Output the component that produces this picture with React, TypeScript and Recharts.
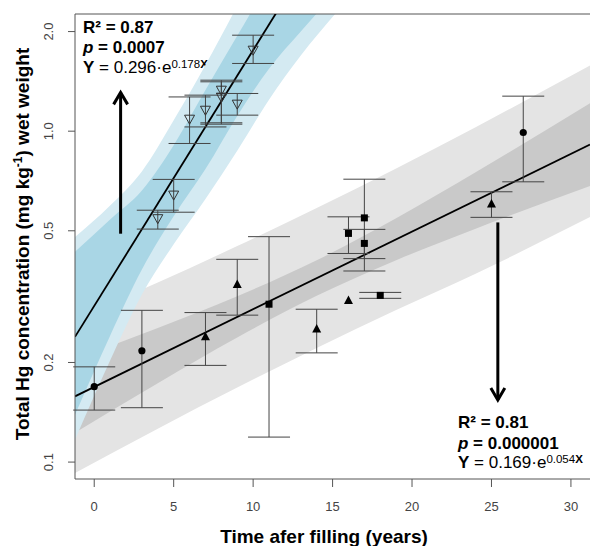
import { ComposedChart, Area, Line, Scatter, ErrorBar, XAxis, YAxis, ReferenceLine } from 'recharts';

// confidence / prediction bands (mg/kg, log axis)
const grayBandX = [-1.21, 4, 9, 14, 19, 24, 31.2];
const grayOuterLo = [0.0927, 0.1262, 0.168, 0.2212, 0.288, 0.3709, 0.55];
const grayOuterHi = [0.2707, 0.3487, 0.4496, 0.5856, 0.7719, 1.0285, 1.58];
const grayInnerLo = [0.1227, 0.1732, 0.2381, 0.318, 0.4074, 0.5075, 0.6834];
const grayInnerHi = [0.2046, 0.2541, 0.317, 0.4074, 0.5458, 0.7515, 1.214];

const blueBandX = [-1.21, 1, 3, 5, 7, 9, 11, 13, 15.2];
const blueOuterLo = [0.1168, 0.2027, 0.3211, 0.4553, 0.6237, 0.872, 1.245, 1.693, 2.272];
const blueOuterHi = [0.479, 0.596, 0.756, 1.079, 1.585, 2.391, 3.66, 5.68, 9.2];
const blueInnerLo = [0.139, 0.241, 0.382, 0.553, 0.768, 1.112, 1.545, 2.001, 2.63];
const blueInnerHi = [0.432, 0.541, 0.662, 0.907, 1.331, 1.941, 2.84, 4.24, 6.63];

// fitted lines
const blueLineX = [-1.21, 12];
const blueLineY = [0.239, 2.51];
const grayLineX = [-1.21, 31.2];
const grayLineY = [0.158, 0.911];

// open triangles (upper group)
const openX = [4, 5, 6, 7, 8, 8, 9, 10];
const openY = [0.544, 0.641, 1.087, 1.157, 1.33, 1.267, 1.207, 1.757];
const openLo = [0.506, 0.569, 0.918, 1.03, 1.05, 1.06, 1.118, 1.602];
const openHi = [0.577, 0.715, 1.269, 1.285, 1.426, 1.41, 1.3, 1.95];

// filled symbols (lower group)
const circX = [0, 3, 27];
const circY = [0.169, 0.217, 0.991];
const circLo = [0.1436, 0.146, 0.703];
const circHi = [0.194, 0.2875, 1.276];

const triX = [7, 9, 14, 25];
const triY = [0.24, 0.345, 0.2535, 0.605];
const triLo = [0.196, 0.278, 0.2138, 0.549];
const triHi = [0.283, 0.41, 0.2897, 0.656];
const triNoErrX = [16];
const triNoErrY = [0.309];

const sqX = [11, 16, 17, 17, 18];
const sqY = [0.3, 0.491, 0.547, 0.458, 0.319];
const sqLo = [0.119, 0.427, 0.378, 0.412, 0.3125];
const sqHi = [0.48, 0.551, 0.716, 0.505, 0.3257];

const upArrow = { x: 1.66, from: 0.49, to: 1.31 };
const downArrow = { x: 25.4, from: 0.53, to: 0.154 };

const yTicks = [0.1, 0.2, 0.5, 1, 2];
const xTicks = [0, 5, 10, 15, 20, 25, 30];

const FONT = '"Liberation Sans", Arial, Helvetica, sans-serif';
const AXIS = '#555';

const band = (xs: number[], lo: number[], hi: number[]) => xs.map((x, i) => ({ x, lo: lo[i], hi: hi[i] }));
const pts = (xs: number[], ys: number[], lo?: number[], hi?: number[]) =>
  xs.map((x, i) => ({ x, y: ys[i], err: lo && hi ? [ys[i] - lo[i], hi[i] - ys[i]] : undefined }));

const OpenTri = (p: any) => (
  <polygon points={`${p.cx - 5},${p.cy - 4} ${p.cx + 5},${p.cy - 4} ${p.cx},${p.cy + 5}`} fill="none" stroke="#333" strokeWidth={1} />
);
const FillTri = (p: any) => (
  <polygon points={`${p.cx - 4.5},${p.cy + 4} ${p.cx + 4.5},${p.cy + 4} ${p.cx},${p.cy - 4.5}`} fill="#000" />
);
const Dot = (p: any) => <circle cx={p.cx} cy={p.cy} r={3.6} fill="#000" />;
const Square = (p: any) => <rect x={p.cx - 3.5} y={p.cy - 3.5} width={7} height={7} fill="#000" />;

const arrowShape = (p: any) => {
  const { x1, y1, x2, y2 } = p;
  const back = y2 < y1 ? 12 : -12;
  return (
    <g>
      <line x1={x1} y1={y1} x2={x2} y2={y2} stroke="#000" strokeWidth={3} />
      <polyline points={`${x2 - 7},${y2 + back} ${x2},${y2} ${x2 + 7},${y2 + back}`} fill="none" stroke="#000" strokeWidth={3} />
    </g>
  );
};

const YTick = (p: any) => {
  const x = p.x - 14.5;
  return (
    <text x={x} y={p.y} transform={`rotate(-90, ${x}, ${p.y})`} textAnchor="middle" fontSize={13} fill="#444" fontFamily={FONT}>
      {p.payload.value.toFixed(1)}
    </text>
  );
};
const XTick = (p: any) => (
  <text x={p.x} y={p.y + 23.7} textAnchor="middle" fontSize={13} fill="#444" fontFamily={FONT}>
    {p.payload.value}
  </text>
);

export default function App() {
  return (
    <div style={{ position: 'absolute', left: 0, top: 0, background: '#fff' }}>
      <ComposedChart width={590} height={546} margin={{ top: 14, right: 0, bottom: 27, left: 0 }}>
        <XAxis
          type="number"
          dataKey="x"
          domain={[-1.21, 31.2]}
          allowDataOverflow
          ticks={xTicks}
          tickSize={8}
          tickMargin={0}
          height={40}
          stroke={AXIS}
          tick={<XTick />}
        />
        <YAxis
          type="number"
          dataKey="y"
          scale="log"
          domain={[0.0889, 2.26]}
          allowDataOverflow
          ticks={yTicks}
          tickSize={7}
          tickMargin={0}
          width={75}
          stroke={AXIS}
          tick={<YTick />}
        />
        <ReferenceLine y={2.26} stroke={AXIS} />

        <Area data={band(grayBandX, grayOuterLo, grayOuterHi)} dataKey={(d: any) => [d.lo, d.hi]} type="monotone" stroke="none" fill="#e4e4e4" fillOpacity={1} isAnimationActive={false} />
        <Area data={band(grayBandX, grayInnerLo, grayInnerHi)} dataKey={(d: any) => [d.lo, d.hi]} type="monotone" stroke="none" fill="#c9c9c9" fillOpacity={1} isAnimationActive={false} />
        <Area data={band(blueBandX, blueOuterLo, blueOuterHi)} dataKey={(d: any) => [d.lo, d.hi]} type="monotone" stroke="none" fill="#d4eaf2" fillOpacity={1} isAnimationActive={false} />
        <Area data={band(blueBandX, blueInnerLo, blueInnerHi)} dataKey={(d: any) => [d.lo, d.hi]} type="monotone" stroke="none" fill="#a9d6e5" fillOpacity={1} isAnimationActive={false} />

        <Line data={pts(grayLineX, grayLineY)} dataKey="y" type="linear" stroke="#000" strokeWidth={1.8} dot={false} isAnimationActive={false} />
        <Line data={pts(blueLineX, blueLineY)} dataKey="y" type="linear" stroke="#000" strokeWidth={1.8} dot={false} isAnimationActive={false} />

        <Scatter data={pts(openX, openY, openLo, openHi)} dataKey="y" shape={OpenTri} isAnimationActive={false}>
          <ErrorBar dataKey="err" direction="y" width={21} stroke="#444" strokeWidth={1} isAnimationActive={false} />
        </Scatter>
        <Scatter data={pts(circX, circY, circLo, circHi)} dataKey="y" shape={Dot} isAnimationActive={false}>
          <ErrorBar dataKey="err" direction="y" width={21} stroke="#444" strokeWidth={1} isAnimationActive={false} />
        </Scatter>
        <Scatter data={pts(triX, triY, triLo, triHi)} dataKey="y" shape={FillTri} isAnimationActive={false}>
          <ErrorBar dataKey="err" direction="y" width={21} stroke="#444" strokeWidth={1} isAnimationActive={false} />
        </Scatter>
        <Scatter data={pts(triNoErrX, triNoErrY)} dataKey="y" shape={FillTri} isAnimationActive={false} />
        <Scatter data={pts(sqX, sqY, sqLo, sqHi)} dataKey="y" shape={Square} isAnimationActive={false}>
          <ErrorBar dataKey="err" direction="y" width={21} stroke="#444" strokeWidth={1} isAnimationActive={false} />
        </Scatter>

        <ReferenceLine segment={[{ x: upArrow.x, y: upArrow.from }, { x: upArrow.x, y: upArrow.to }]} shape={arrowShape} />
        <ReferenceLine segment={[{ x: downArrow.x, y: downArrow.from }, { x: downArrow.x, y: downArrow.to }]} shape={arrowShape} />

        <g fontFamily={FONT} fontSize={17} fill="#000">
          <text x={83} y={32.5} fontWeight="bold">R² = 0.87</text>
          <text x={83} y={52.7} fontWeight="bold"><tspan fontStyle="italic">p</tspan> = 0.0007</text>
          <text x={83} y={73.3}>
            <tspan fontWeight="bold">Y</tspan> = 0.296·e<tspan dy={-5} fontSize={11.5}>0.178</tspan><tspan fontSize={11.5} fontWeight="bold">X</tspan>
          </text>
          <text x={458} y={428.3} fontWeight="bold">R² = 0.81</text>
          <text x={458} y={449} fontWeight="bold"><tspan fontStyle="italic">p</tspan> = 0.000001</text>
          <text x={458} y={468}>
            <tspan fontWeight="bold">Y</tspan> = 0.169·e<tspan dy={-5} fontSize={11.5}>0.054</tspan><tspan fontSize={11.5} fontWeight="bold">X</tspan>
          </text>
        </g>

        <text x={324} y={543} textAnchor="middle" fontFamily={FONT} fontSize={19} fontWeight="bold" fill="#000">
          Time afer filling (years)
        </text>
        <text transform="rotate(-90)" x={-244} y={28.5} textAnchor="middle" fontFamily={FONT} fontSize={19} fontWeight="bold" fill="#000">
          Total Hg concentration (mg kg<tspan dy={-7} fontSize={12}>-1</tspan><tspan dy={7}>) wet weight</tspan>
        </text>
      </ComposedChart>
    </div>
  );
}
